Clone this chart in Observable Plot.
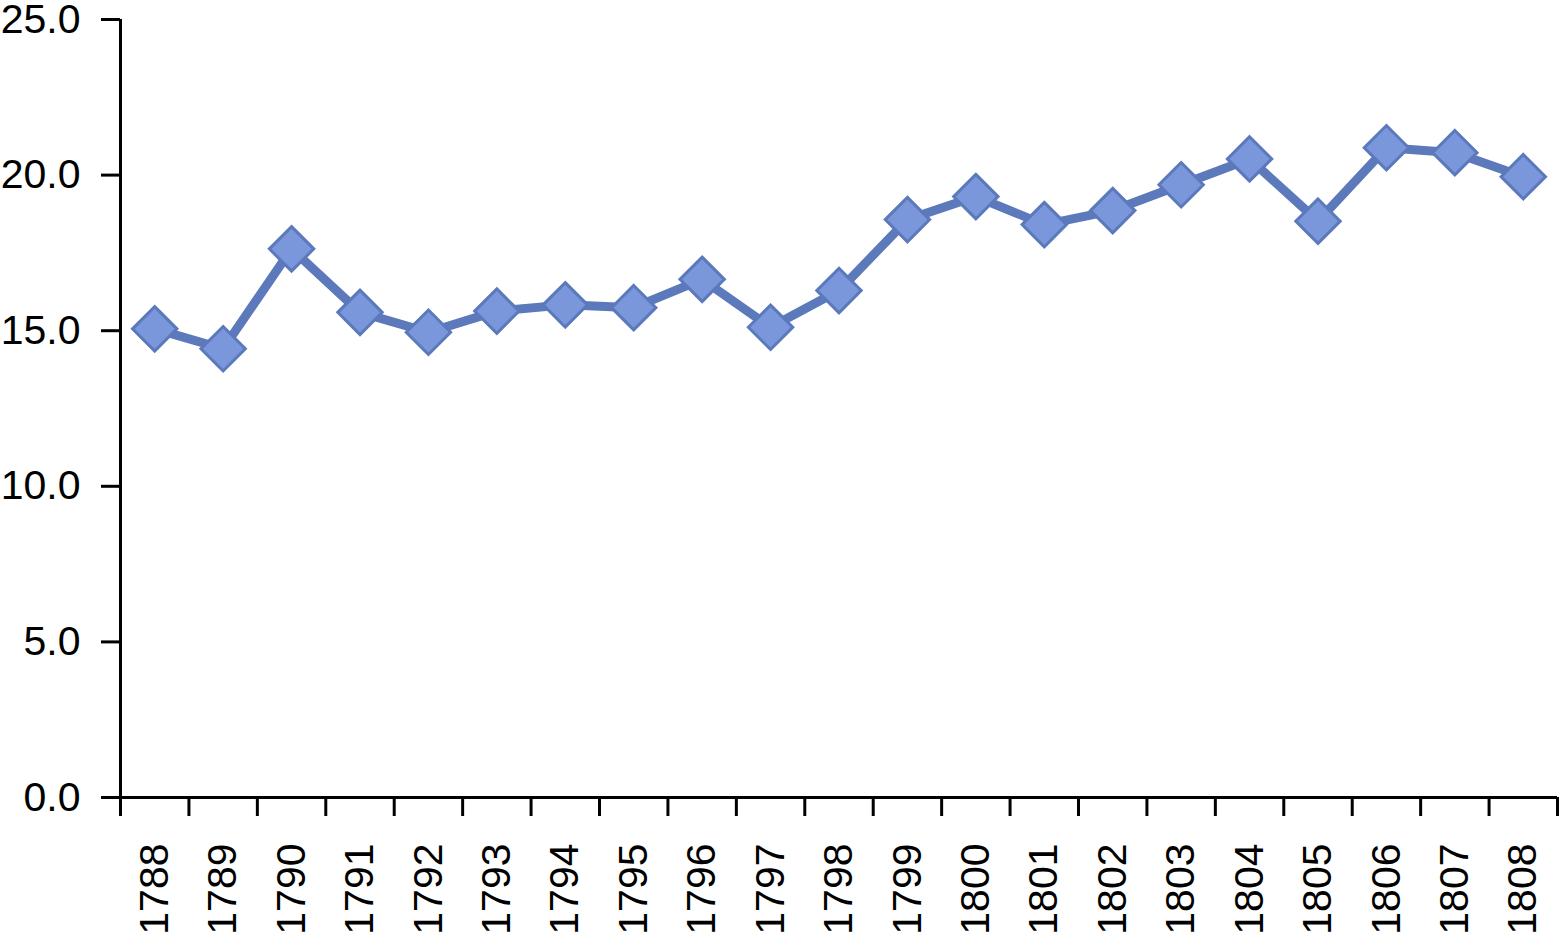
<!DOCTYPE html>
<html>
<head>
<meta charset="utf-8">
<script src="https://cdn.jsdelivr.net/npm/d3@7"></script>
<script src="https://cdn.jsdelivr.net/npm/@observablehq/plot@0.6"></script>
<style>
  html, body { margin: 0; padding: 0; background: #fff; }
  svg { display: block; }
</style>
</head>
<body>
<div id="chart"></div>
<script>
const years = [1788,1789,1790,1791,1792,1793,1794,1795,1796,1797,1798,1799,1800,1801,1802,1803,1804,1805,1806,1807,1808];
const values = [15.06,14.42,17.63,15.59,14.95,15.63,15.83,15.74,16.65,15.11,16.29,18.57,19.31,18.41,18.86,19.69,20.52,18.52,20.88,20.72,19.95];
const yTicks = [0,5,10,15,20,25];

const data = years.map((y, i) => ({year: y, value: values[i]}));
const boundaries = [...years.map(y => y - 0.5), years[years.length - 1] + 0.5];

const lineColor = "#5b79bb";
const fillColor = "#7b97dc";

const chart = Plot.plot({
  width: 1560,
  height: 936,
  marginLeft: 120,
  marginRight: 3,
  marginTop: 19,
  marginBottom: 139,
  style: {fontFamily: "'Liberation Sans', Arial, Helvetica, sans-serif", fontSize: "41px", color: "#000", background: "#fff"},
  x: {type: "linear", domain: [boundaries[0], boundaries[boundaries.length - 1]]},
  y: {domain: [0, 25]},
  marks: [
    Plot.axisY({ticks: yTicks, tickFormat: d3.format(".1f"), tickSize: 19, tickPadding: 21, strokeWidth: 3, label: null, fontSize: 41}),
    Plot.axisX({ticks: boundaries, tickFormat: () => "", tickSize: 19, strokeWidth: 3, label: null}),
    Plot.axisX({ticks: years, tickFormat: d => String(d), tickSize: 0, tickPadding: 46, tickRotate: -90, label: null, fontSize: 41}),
    Plot.ruleX([boundaries[0]], {stroke: "#000", strokeWidth: 3}),
    Plot.ruleY([0], {stroke: "#000", strokeWidth: 3}),
    Plot.line(data, {x: "year", y: "value", stroke: lineColor, strokeWidth: 9, strokeLinejoin: "round"}),
    Plot.dot(data, {x: "year", y: "value", symbol: "diamond2", r: 20, fill: fillColor, stroke: lineColor, strokeWidth: 3})
  ]
});
document.getElementById("chart").appendChild(chart);
</script>
</body>
</html>
